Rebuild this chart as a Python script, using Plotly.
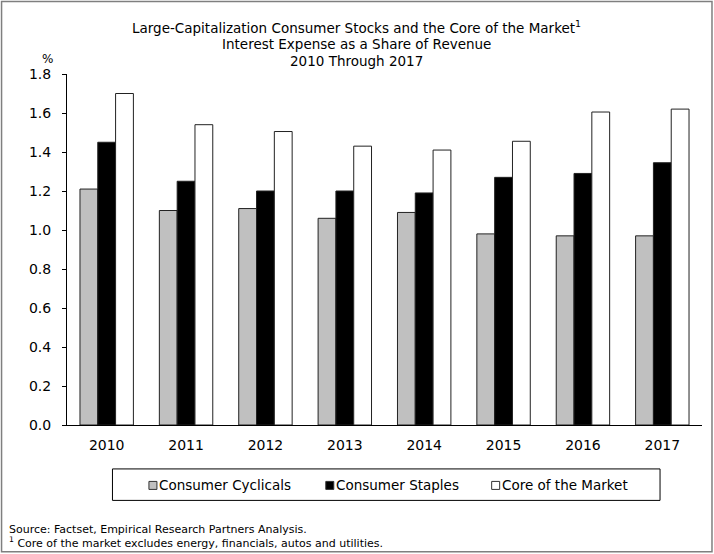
import plotly.graph_objects as go

# Interest expense as a share of revenue (%), 2010-2017
years = ["2010", "2011", "2012", "2013", "2014", "2015", "2016", "2017"]
consumer_cyclicals = [1.21, 1.10, 1.11, 1.06, 1.09, 0.98, 0.97, 0.97]
consumer_staples = [1.45, 1.25, 1.20, 1.20, 1.19, 1.27, 1.29, 1.345]
core_of_market = [1.70, 1.54, 1.505, 1.43, 1.41, 1.455, 1.605, 1.62]

series_names = ["Consumer Cyclicals", "Consumer Staples", "Core of the Market"]
series_values = [consumer_cyclicals, consumer_staples, core_of_market]
series_colors = ["#c0c0c0", "#000000", "#ffffff"]

y_ticks = [0.0, 0.2, 0.4, 0.6, 0.8, 1.0, 1.2, 1.4, 1.6, 1.8]

FONT = "DejaVu Sans"
W, H = 714, 554
M_L, M_R, M_T, M_B = 67, 11.5, 74, 128.5
PW, PH = W - M_L - M_R, H - M_T - M_B


def px_x(px):
    return (px - M_L) / PW


def px_y(py):
    return (H - M_B - py) / PH


fig = go.Figure()
for name, vals, col in zip(series_names, series_values, series_colors):
    fig.add_trace(go.Bar(
        x=years, y=vals, name=name,
        marker=dict(color=col, line=dict(color="#222222", width=1)),
        showlegend=False,
    ))

shapes = []
annotations = []

# outer frame
shapes.append(dict(type="rect", xref="paper", yref="paper",
                   x0=px_x(1.5), x1=px_x(712.5), y0=px_y(552.5), y1=px_y(1.5),
                   line=dict(color="#7f7f7f", width=1.5), fillcolor="rgba(0,0,0,0)", layer="below"))

# legend box
shapes.append(dict(type="rect", xref="paper", yref="paper",
                   x0=px_x(112.5), x1=px_x(660.5), y0=px_y(501), y1=px_y(469.5),
                   line=dict(color="#000000", width=1), fillcolor="white"))
legend_x = [149, 326, 492]
for lx, name, col in zip(legend_x, series_names, series_colors):
    shapes.append(dict(type="rect", xref="paper", yref="paper",
                       x0=px_x(lx), x1=px_x(lx + 8), y0=px_y(490), y1=px_y(482),
                       line=dict(color="#333333", width=1), fillcolor=col))
    annotations.append(dict(xref="paper", yref="paper", x=px_x(lx + 8.5), y=px_y(485.5),
                            text=name, showarrow=False, xanchor="left", yanchor="middle",
                            font=dict(family=FONT, size=13.5, color="black")))

# title lines
title_lines = [
    "Large-Capitalization Consumer Stocks and the Core of the Market<sup>1</sup>",
    "Interest Expense as a Share of Revenue",
    "2010 Through 2017",
]
for i, t in enumerate(title_lines):
    annotations.append(dict(xref="paper", yref="paper", x=px_x(357), y=px_y(27 + 17 * i),
                            text=t, showarrow=False, xanchor="center", yanchor="middle",
                            font=dict(family=FONT, size=13.5, color="black")))

# unit label
annotations.append(dict(xref="paper", yref="paper", x=px_x(47), y=px_y(59),
                        text="%", showarrow=False, xanchor="center", yanchor="middle",
                        font=dict(family=FONT, size=12, color="black")))

# footnotes
notes = [
    "Source: Factset, Empirical Research Partners Analysis.",
    "<sup>1</sup> Core of the market excludes energy, financials, autos and utilities.",
]
for i, t in enumerate(notes):
    annotations.append(dict(xref="paper", yref="paper", x=px_x(7), y=px_y(530 + 13 * i),
                            text=t, showarrow=False, xanchor="left", yanchor="middle",
                            font=dict(family=FONT, size=11, color="black")))

fig.update_layout(
    width=W, height=H,
    margin=dict(l=M_L, r=M_R, t=M_T, b=M_B, pad=0),
    paper_bgcolor="white", plot_bgcolor="white",
    barmode="group", bargap=0.327, bargroupgap=0,
    font=dict(family=FONT, size=14, color="black"),
    shapes=shapes, annotations=annotations,
    xaxis=dict(showline=True, linecolor="black", linewidth=1, ticks="",
               showgrid=False, tickfont=dict(size=14), ticklabelstandoff=7),
    yaxis=dict(range=[0, 1.8], tickvals=y_ticks, tickformat=".1f",
               showline=True, linecolor="black", linewidth=1,
               ticks="outside", ticklen=4, tickcolor="black",
               showgrid=False, zeroline=False, tickfont=dict(size=14),
               ticklabelstandoff=8),
)

fig.write_html("out.html")
